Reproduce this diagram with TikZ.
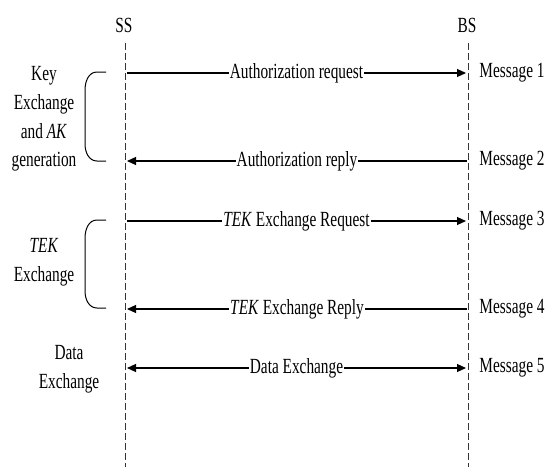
\documentclass[tikz,border=0pt]{standalone}
\usepackage{fontspec}
\setmainfont{Liberation Serif}[FakeStretch=0.71]
\usepackage{tikz}
\usetikzlibrary{arrows.meta}

\tikzset{
    lifeline/.style={black!80, line width=0.5pt, dash pattern=on 3.5pt off 1.5pt},
    msg/.style={line width=0.55pt, -{Triangle[length=4.5pt,width=4pt]}},
    msglabel/.style={fill=white, inner xsep=0.5pt, inner ysep=1pt},
    msgno/.style={anchor=west, inner sep=0pt},
    phase/.style={align=center, inner sep=0pt},
    bracket/.style={line width=0.5pt}
}

\begin{document}
\begin{tikzpicture}[x=0.5pt, y=-0.5pt, font=\fontsize{10.8}{14.35}\selectfont]
    \useasboundingbox (0,0) rectangle (547,467);
    % the two stations and their lifelines
    \node[inner sep=0pt] (SS) at (124,25) {SS};
    \node[inner sep=0pt] (BS) at (467,25) {BS};
    \coordinate (SStop) at (125,43);
    \coordinate (BStop) at (468,43);
    \coordinate (SSbot) at (125,467);
    \coordinate (BSbot) at (468,467);
    \draw[lifeline] (SStop) -- (SSbot);
    \draw[lifeline] (BStop) -- (BSbot);

    % message end points
    \coordinate (s1) at (127,73);  \coordinate (b1) at (466,73);
    \coordinate (s2) at (127,161); \coordinate (b2) at (467,161);
    \coordinate (s3) at (127,221); \coordinate (b3) at (466,221);
    \coordinate (s4) at (127,309); \coordinate (b4) at (467,309);
    \coordinate (s5) at (127,368); \coordinate (b5) at (466,368);

    \draw[msg] (s1) -- node[msglabel] {Authorization request} (b1);
    \draw[msg] (b2) -- node[msglabel] {Authorization reply} (s2);
    \draw[msg] (s3) -- node[msglabel] {\textit{TEK} Exchange Request} (b3);
    \draw[msg] (b4) -- node[msglabel] {\textit{TEK} Exchange Reply} (s4);
    \draw[msg, {Triangle[length=4.5pt,width=4pt]}-{Triangle[length=4.5pt,width=4pt]}]
        (s5) -- node[msglabel] {Data Exchange} (b5);

    \node[msgno] (m1) at (479,73)  {Message 1};
    \node[msgno] (m2) at (479,161) {Message 2};
    \node[msgno] (m3) at (479,221) {Message 3};
    \node[msgno] (m4) at (479,309) {Message 4};
    \node[msgno] (m5) at (479,368) {Message 5};

    % phases on the left
    \node[phase] (keyx) at (44,119) {Key\\Exchange\\and \textit{AK}\\generation};
    \node[phase] (tekx) at (44,262) {\textit{TEK}\\Exchange};
    \node[phase] (data) at (69,369) {Data\\Exchange};

    \draw[bracket] (106,72) -- (97,72) to[out=180,in=90] (85,90)
        -- (85,144) to[out=-90,in=180] (97,161) -- (106,161);
    \draw[bracket] (106,220) -- (97,220) to[out=180,in=90] (85,238)
        -- (85,291) to[out=-90,in=180] (97,308) -- (106,308);
\end{tikzpicture}
\end{document}
